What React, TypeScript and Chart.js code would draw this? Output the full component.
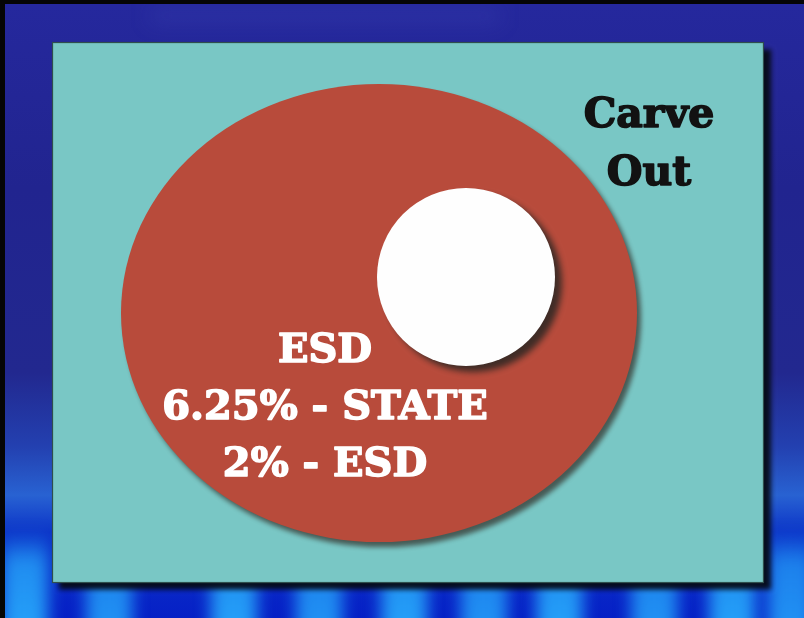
import React, { useEffect, useRef } from "react";
import { Chart, registerables } from "chart.js";

Chart.register(...registerables);

// Slide geometry in slide units (x: 0-100 of width, y: 0-100 of height)
const panelBox = [6.47, 6.8, 95.02, 94.34]; // x1, y1, x2, y2
const ellipseCenter = [47.14, 50.65];
const ellipseRadii = [32.09, 37.06];
const circleCenter = [57.96, 44.82];
const circleRadii = [11.07, 14.4];

const mainLabels = ["ESD", "6.25% - STATE", "2% - ESD"];
const mainLabelX = 40.42;
const mainLabelY = [58.58, 67.8, 77.02];

const sideLabels = ["Carve", "Out"];
const sideLabelX = 80.72;
const sideLabelY = [20.55, 29.94];

// background light-blue stripe centres along the bottom (slide units)
const stripeX = [3.2, 13.7, 29.2, 39.8, 50.4, 60.3, 69.7, 81.5, 91.2, 98.5];

const slidePlugin = {
  id: "slide",
  beforeDatasetsDraw(chart: any) {
    const { ctx, scales } = chart;
    const X = (v: number) => scales.x.getPixelForValue(v);
    const Y = (v: number) => scales.y.getPixelForValue(v);
    const W = chart.width;
    const H = chart.height;
    ctx.save();
    // frame
    ctx.fillStyle = "#050505";
    ctx.fillRect(0, 0, W, H);
    // blue background
    const g = ctx.createLinearGradient(0, 4, 0, H);
    g.addColorStop(0, "#25289d");
    g.addColorStop(0.3, "#21248f");
    g.addColorStop(0.6, "#22288f");
    g.addColorStop(0.72, "#2340b0");
    g.addColorStop(0.8, "#2862d2");
    g.addColorStop(0.86, "#0c34c8");
    g.addColorStop(1, "#0620c6");
    ctx.fillStyle = g;
    ctx.fillRect(5, 4, W - 5, H - 4);
    ctx.save();
    ctx.beginPath();
    ctx.rect(5, 4, W - 5, H - 4);
    ctx.clip();
    ctx.filter = "blur(10px)";
    ctx.fillStyle = "rgba(70,80,190,0.3)";
    ctx.fillRect(150, 10, 350, 12);
    ctx.filter = "blur(8px)";
    stripeX.forEach((sx, i) => {
      const sg = ctx.createLinearGradient(0, Y(86), 0, H);
      const c = i % 2 === 0 ? "38,165,250" : "34,150,245";
      sg.addColorStop(0, `rgba(${c},0)`);
      sg.addColorStop(0.35, `rgba(${c},0.8)`);
      sg.addColorStop(1, `rgba(${c},0.95)`);
      ctx.fillStyle = sg;
      ctx.fillRect(X(sx) - 24, Y(86), 46, H);
    });
    ctx.restore();

    // panel with shadow
    const px1 = X(panelBox[0]);
    const py1 = Y(panelBox[1]);
    const px2 = X(panelBox[2]);
    const py2 = Y(panelBox[3]);
    ctx.save();
    ctx.shadowColor = "rgba(5,10,20,0.95)";
    ctx.shadowBlur = 5;
    ctx.shadowOffsetX = 7;
    ctx.shadowOffsetY = 7;
    ctx.fillStyle = "#79c7c5";
    ctx.fillRect(px1, py1, px2 - px1, py2 - py1);
    ctx.restore();
    ctx.strokeStyle = "#2f4f4d";
    ctx.lineWidth = 1.2;
    ctx.strokeRect(px1 + 0.5, py1 + 0.5, px2 - px1 - 1, py2 - py1 - 1);

    // ellipse
    ctx.save();
    ctx.shadowColor = "rgba(60,70,65,0.85)";
    ctx.shadowBlur = 5;
    ctx.shadowOffsetX = 4;
    ctx.shadowOffsetY = 5;
    ctx.fillStyle = "#b84b3b";
    ctx.beginPath();
    ctx.ellipse(
      X(ellipseCenter[0]), Y(ellipseCenter[1]),
      X(ellipseRadii[0]) - X(0), Y(ellipseRadii[1]) - Y(0),
      0, 0, Math.PI * 2
    );
    ctx.fill();
    ctx.restore();

    // white circle
    ctx.save();
    ctx.shadowColor = "rgba(50,40,35,0.9)";
    ctx.shadowBlur = 6;
    ctx.shadowOffsetX = 7;
    ctx.shadowOffsetY = 6;
    ctx.fillStyle = "#fefefe";
    ctx.beginPath();
    ctx.ellipse(
      X(circleCenter[0]), Y(circleCenter[1]),
      X(circleRadii[0]) - X(0), Y(circleRadii[1]) - Y(0),
      0, 0, Math.PI * 2
    );
    ctx.fill();
    ctx.restore();

    // labels
    ctx.textAlign = "center";
    ctx.textBaseline = "alphabetic";
    ctx.lineJoin = "round";
    ctx.font = "bold 40px 'DejaVu Serif'";
    ctx.fillStyle = "#ffffff";
    ctx.strokeStyle = "#ffffff";
    ctx.lineWidth = 1.6;
    mainLabels.forEach((t, i) => {
      ctx.fillText(t, X(mainLabelX), Y(mainLabelY[i]));
      ctx.strokeText(t, X(mainLabelX), Y(mainLabelY[i]));
    });
    ctx.fillStyle = "#121212";
    ctx.strokeStyle = "#121212";
    ctx.font = "bold 41px 'DejaVu Serif'";
    sideLabels.forEach((t, i) => {
      ctx.fillText(t, X(sideLabelX), Y(sideLabelY[i]));
      ctx.strokeText(t, X(sideLabelX), Y(sideLabelY[i]));
    });
    ctx.restore();
  },
};

export default function App() {
  const ref = useRef<HTMLCanvasElement>(null);
  useEffect(() => {
    if (!ref.current) return;
    const chart = new Chart(ref.current, {
      type: "scatter",
      data: {
        datasets: [
          {
            data: [
              { x: ellipseCenter[0], y: ellipseCenter[1] },
              { x: circleCenter[0], y: circleCenter[1] },
            ],
            pointRadius: 0,
          },
        ],
      },
      options: {
        responsive: false,
        maintainAspectRatio: false,
        animation: false,
        layout: { padding: 0 },
        events: [],
        plugins: { legend: { display: false }, tooltip: { enabled: false } },
        scales: {
          x: { type: "linear", min: 0, max: 100, display: false },
          y: { type: "linear", min: 0, max: 100, reverse: true, display: false },
        },
      },
      plugins: [slidePlugin],
    });
    return () => chart.destroy();
  }, []);
  return (
    <div style={{ position: "fixed", left: 0, top: 0, width: 804, height: 618 }}>
      <canvas ref={ref} width={804} height={618} style={{ display: "block" }} />
    </div>
  );
}
